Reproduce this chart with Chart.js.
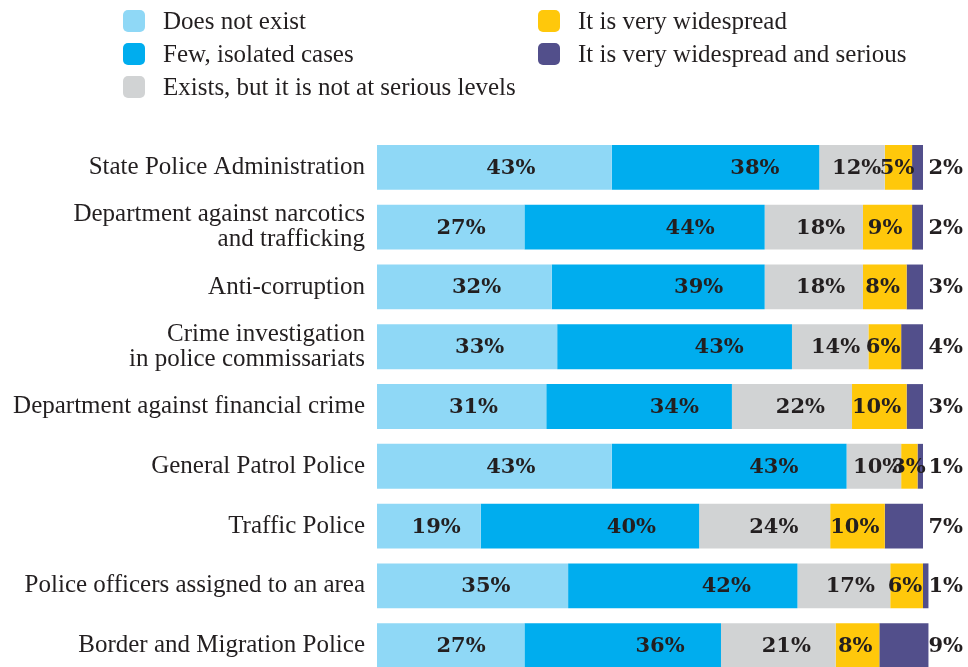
<!DOCTYPE html>
<html>
<head>
<meta charset="utf-8">
<script src="https://cdn.jsdelivr.net/npm/chart.js@4.4.1/dist/chart.umd.min.js"></script>
<style>
  body { margin: 0; background: #fff; overflow: hidden; }
  #wrap { position: relative; width: 968px; height: 700px; }
  #legend {
    position: absolute; top: 10px; left: 123px;
    display: grid; grid-auto-flow: column;
    grid-template-columns: 415px auto; grid-template-rows: repeat(3, 33px);
    font-family: "Liberation Serif", serif; font-size: 25px; color: #231f20;
  }
  .item { display: flex; align-items: flex-start; white-space: nowrap; }
  .item span.box { width: 22px; height: 22px; border-radius: 5px; margin-right: 18px; flex: none; }
  .item span.txt { line-height: 22px; }
</style>
</head>
<body>
<div id="wrap">
  <div id="legend"></div>
  <canvas id="myChart" width="968" height="700"></canvas>
</div>
<script>
let categories = [
    ['State Police Administration'],
    ['Department against narcotics', 'and trafficking'],
    ['Anti-corruption'],
    ['Crime investigation', 'in police commissariats'],
    ['Department against financial crime'],
    ['General Patrol Police'],
    ['Traffic Police'],
    ['Police officers assigned to an area'],
    ['Border and Migration Police']
];

let seriesNames = [
    'Does not exist',
    'Few, isolated cases',
    'Exists, but it is not at serious levels',
    'It is very widespread',
    'It is very widespread and serious'
];

let doesNotExist      = [43, 27, 32, 33, 31, 43, 19, 35, 27];
let fewCases          = [38, 44, 39, 43, 34, 43, 40, 42, 36];
let notSerious        = [12, 18, 18, 14, 22, 10, 24, 17, 21];
let widespread        = [5, 9, 8, 6, 10, 3, 10, 6, 8];
let widespreadSerious = [2, 2, 3, 4, 3, 1, 7, 1, 9];

let colors = ['#8fd8f6', '#00adee', '#d1d3d4', '#ffc80b', '#524f8b'];

// where inside each segment the percentage sits (0 = left edge, 1 = right edge)
let labelSpot = [0.57, 0.69, 0.57, 0.45];

const textColor = '#231f20';

const values = [doesNotExist, fewCases, notSerious, widespread, widespreadSerious];

const datasets = values.map(function (v, i) {
    return {
        label: seriesNames[i],
        data: v,
        backgroundColor: colors[i],
        borderWidth: 0,
        barPercentage: 0.75,
        categoryPercentage: 1,
        clip: false
    };
});

// percentages written on the bars, the last series goes outside on the right
const percentLabels = {
    id: 'percentLabels',
    afterDatasetsDraw(chart) {
        const ctx = chart.ctx;
        ctx.save();
        ctx.font = 'bold 21px "DejaVu Serif"';
        ctx.fillStyle = textColor;
        ctx.textBaseline = 'middle';
        chart.data.datasets.forEach(function (ds, i) {
            const meta = chart.getDatasetMeta(i);
            meta.data.forEach(function (bar, j) {
                const txt = ds.data[j] + '%';
                if (i === chart.data.datasets.length - 1) {
                    ctx.textAlign = 'right';
                    ctx.fillText(txt, chart.chartArea.right + 40, bar.y + 1);
                } else {
                    ctx.textAlign = 'center';
                    const x = bar.base + (bar.x - bar.base) * labelSpot[i];
                    ctx.fillText(txt, x, bar.y + 1);
                }
            });
        });
        ctx.restore();
    }
};

const config = {
    type: 'bar',
    data: { labels: categories, datasets: datasets },
    options: {
        indexAxis: 'y',
        responsive: false,
        animation: false,
        devicePixelRatio: 1,
        layout: { padding: { top: 137.5, bottom: 22.5, left: 0, right: 45 } },
        scales: {
            x: { stacked: true, min: 0, max: 100, display: false },
            y: {
                stacked: true,
                grid: { display: false, drawTicks: false },
                border: { display: false },
                ticks: {
                    color: textColor,
                    padding: 12,
                    font: { family: '"Liberation Serif"', size: 25, lineHeight: 1 }
                },
                afterFit(scale) { scale.width = 377; }
            }
        },
        plugins: { legend: { display: false }, tooltip: { enabled: false } }
    },
    plugins: [percentLabels]
};

var myChart = new Chart(document.getElementById('myChart'), config);

// legend in two columns above the chart
const legendBox = document.getElementById('legend');
myChart.data.datasets.forEach(function (ds) {
    const item = document.createElement('div');
    item.className = 'item';
    const box = document.createElement('span');
    box.className = 'box';
    box.style.background = ds.backgroundColor;
    const txt = document.createElement('span');
    txt.className = 'txt';
    txt.textContent = ds.label;
    item.appendChild(box);
    item.appendChild(txt);
    legendBox.appendChild(item);
});
</script>
</body>
</html>
